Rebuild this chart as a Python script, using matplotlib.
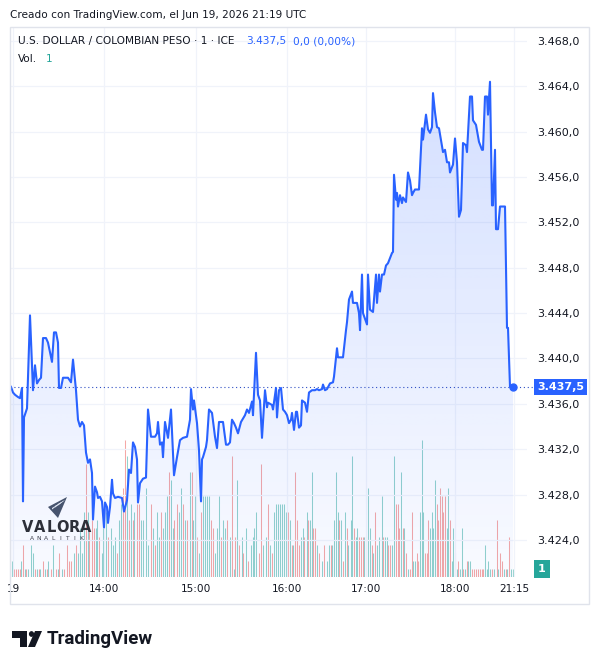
import matplotlib.pyplot as plt
import numpy as np
from matplotlib.patches import Rectangle, Polygon, Circle
from matplotlib.ticker import FuncFormatter

# USD/COP 1-minute area chart, Jun 19 2026 (TradingView export)
bar = [11, 13, 15, 18, 20, 22, 23, 24, 27, 30,
       33, 35, 37, 39, 41, 43, 46, 48, 52, 54,
       56, 58, 59, 61, 63, 68, 71, 73, 76, 78,
       80, 82, 84, 86, 88, 90, 92, 93, 95, 97,
       98, 100, 102, 104, 105, 107, 108, 110, 112, 113,
       115, 118, 122, 124, 127, 129, 131, 133, 135, 137,
       138, 140, 143, 146, 148, 151, 155, 157, 158, 160,
       162, 163, 165, 168, 171, 174, 177, 180, 183, 187,
       190, 191, 193, 194, 197, 199, 201, 202, 203, 206,
       207, 209, 212, 215, 217, 219, 223, 226, 228, 230,
       232, 234, 236, 238, 241, 245, 247, 249, 252, 253,
       256, 258, 260, 262, 265, 267, 268, 272, 273, 276,
       277, 279, 281, 283, 285, 287, 289, 291, 292, 294,
       296, 297, 299, 301, 302, 305, 307, 309, 312, 315,
       317, 319, 322, 323, 325, 327, 330, 333, 334, 337,
       338, 343, 346, 347, 349, 352, 353, 357, 359, 360,
       362, 363, 367, 368, 370, 373, 376, 377, 379, 380,
       382, 384, 386, 388, 392, 393, 394, 396, 397, 398,
       400, 402, 403, 406, 408, 410, 412, 413, 415, 419,
       422, 423, 426, 428, 430, 432, 433, 435, 437, 439,
       442, 443, 445, 447, 449, 450, 453, 455, 457, 459,
       461, 463, 466, 467, 470, 472, 473, 476, 479, 482,
       483, 485, 487, 488, 490, 492, 493, 495, 496, 498,
       500, 505, 507, 508, 510, 513]

price = [3437.5, 3437.0, 3436.8, 3436.6, 3436.5, 3437.4, 3427.4, 3434.8, 3435.6, 3443.8,
         3437.2, 3439.4, 3437.8, 3438.1, 3438.3, 3441.8, 3441.8, 3441.4, 3439.7, 3442.3,
         3442.3, 3441.4, 3437.4, 3437.4, 3438.3, 3438.3, 3437.9, 3439.9, 3437.2, 3434.6,
         3434.0, 3434.4, 3434.1, 3431.7, 3430.8, 3431.1, 3429.9, 3425.8, 3428.7, 3428.2,
         3427.7, 3427.8, 3427.4, 3425.1, 3427.3, 3426.9, 3425.5, 3426.9, 3429.3, 3428.1,
         3427.7, 3427.8, 3427.7, 3426.5, 3427.5, 3430.2, 3429.9, 3432.6, 3432.2, 3431.1,
         3427.3, 3429.0, 3429.4, 3429.5, 3435.5, 3433.1, 3433.1, 3433.4, 3434.4, 3432.4,
         3432.6, 3431.3, 3434.4, 3433.0, 3435.5, 3429.7, 3431.3, 3432.8, 3433.0, 3433.1,
         3434.6, 3437.3, 3435.5, 3436.3, 3434.3, 3431.9, 3427.4, 3431.1, 3431.3, 3432.2,
         3432.8, 3435.5, 3435.2, 3433.1, 3432.1, 3434.4, 3434.4, 3432.4, 3432.4, 3432.6,
         3434.6, 3434.3, 3433.9, 3433.4, 3434.4, 3435.0, 3435.5, 3435.2, 3436.2, 3435.0,
         3440.5, 3436.8, 3436.3, 3433.0, 3437.2, 3435.7, 3436.1, 3435.9, 3435.5, 3437.4,
         3434.8, 3437.2, 3437.4, 3435.5, 3435.3, 3435.0, 3434.3, 3434.6, 3435.2, 3433.7,
         3435.3, 3435.3, 3433.9, 3434.1, 3436.3, 3436.1, 3435.3, 3437.0, 3437.2, 3437.2,
         3437.3, 3437.2, 3437.3, 3437.7, 3437.2, 3437.3, 3437.8, 3437.9, 3438.4, 3440.9,
         3440.1, 3440.1, 3442.5, 3443.2, 3445.2, 3445.9, 3444.9, 3444.9, 3444.0, 3442.5,
         3447.4, 3444.0, 3443.0, 3447.4, 3444.3, 3444.1, 3447.4, 3444.9, 3447.4, 3445.9,
         3447.4, 3447.4, 3448.2, 3448.4, 3449.3, 3449.4, 3456.2, 3454.0, 3454.6, 3453.4,
         3454.4, 3453.7, 3454.2, 3453.8, 3456.4, 3455.7, 3454.4, 3454.6, 3454.9, 3454.9,
         3460.3, 3459.3, 3461.5, 3460.2, 3459.9, 3460.4, 3463.4, 3461.7, 3460.4, 3460.3,
         3458.7, 3458.2, 3458.4, 3457.3, 3457.3, 3456.4, 3457.1, 3459.4, 3457.3, 3452.5,
         3453.1, 3459.0, 3458.8, 3458.2, 3463.1, 3463.1, 3461.0, 3460.6, 3459.1, 3458.4,
         3458.4, 3463.1, 3463.1, 3461.5, 3464.4, 3453.5, 3453.5, 3458.4, 3451.4, 3451.4,
         3453.4, 3453.4, 3442.7, 3442.7, 3437.5, 3437.5]

vol_bar = [12, 14, 16, 18, 20, 21, 23, 25, 26, 28,
           31, 33, 35, 37, 39, 40, 43, 45, 47, 48,
           51, 53, 56, 58, 59, 62, 64, 67, 69, 71,
           74, 76, 78, 80, 82, 84, 86, 88, 89, 92,
           94, 96, 97, 99, 102, 103, 106, 108, 111, 113,
           115, 117, 119, 121, 123, 125, 127, 129, 131, 133,
           134, 137, 139, 141, 143, 146, 148, 151, 153, 155,
           157, 159, 161, 163, 165, 167, 169, 171, 173, 174,
           177, 179, 181, 183, 185, 187, 190, 192, 193, 195,
           197, 199, 201, 203, 205, 207, 209, 211, 213, 215,
           217, 219, 221, 223, 225, 227, 230, 232, 234, 235,
           237, 239, 242, 243, 246, 248, 251, 253, 254, 256,
           259, 261, 263, 266, 268, 270, 272, 274, 276, 278,
           280, 282, 284, 286, 288, 290, 292, 293, 295, 297,
           299, 301, 303, 304, 307, 308, 310, 312, 313, 315,
           317, 319, 322, 324, 327, 329, 331, 332, 334, 336,
           338, 339, 341, 343, 345, 347, 348, 351, 352, 354,
           356, 357, 359, 361, 363, 364, 366, 368, 370, 372,
           373, 375, 377, 379, 382, 383, 385, 387, 388, 390,
           392, 394, 396, 398, 399, 401, 403, 404, 406, 408,
           410, 412, 413, 415, 417, 418, 420, 422, 423, 425,
           427, 428, 430, 432, 433, 435, 437, 438, 440, 442,
           443, 445, 447, 448, 450, 452, 453, 455, 457, 458,
           460, 462, 463, 465, 467, 468, 470, 472, 474, 476,
           478, 480, 482, 483, 485, 487, 488, 490, 492, 494,
           497, 498, 500, 502, 504, 506, 507, 509, 511, 513]

vol = [2, 1, 1, 1, 1, 2, 4, 1, 1, 1,
       4, 3, 1, 1, 1, 1, 2, 1, 1, 2,
       1, 4, 1, 1, 3, 1, 1, 4, 2, 2,
       3, 4, 3, 6, 3, 8, 14, 8, 6, 7,
       6, 6, 7, 5, 3, 6, 8, 5, 6, 4,
       5, 3, 7, 9, 11, 17, 15, 7, 9, 7,
       8, 9, 9, 7, 7, 11, 4, 9, 6, 4,
       8, 5, 8, 6, 8, 10, 13, 12, 6, 7,
       9, 8, 11, 9, 7, 7, 13, 13, 7, 10,
       5, 3, 8, 10, 10, 10, 10, 7, 6, 3,
       6, 10, 5, 7, 6, 7, 5, 15, 1, 5,
       12, 4, 5, 3, 6, 2, 4, 5, 6, 8,
       3, 14, 4, 5, 9, 4, 3, 8, 9, 9,
       9, 9, 9, 8, 8, 7, 4, 4, 13, 7,
       4, 5, 6, 5, 8, 7, 7, 13, 6, 6,
       4, 3, 2, 4, 2, 4, 4, 4, 7, 13,
       8, 7, 7, 2, 8, 6, 4, 7, 15, 6,
       5, 6, 5, 5, 5, 5, 5, 11, 6, 4,
       3, 8, 4, 5, 10, 5, 5, 5, 4, 4,
       4, 15, 9, 9, 6, 13, 6, 6, 3, 1,
       1, 8, 2, 2, 3, 2, 8, 17, 8, 3,
       3, 7, 6, 8, 6, 12, 9, 7, 11, 10,
       8, 10, 6, 11, 7, 2, 6, 3, 1, 2,
       1, 6, 1, 1, 2, 2, 2, 1, 1, 1,
       1, 1, 1, 1, 4, 1, 2, 1, 1, 1,
       7, 1, 3, 2, 1, 1, 1, 5, 1, 1]

# g = up bar (teal), r = down bar (red)
vol_dir = ("grrrrgrgrg" "ggrgrgrgrg" "rgrgrgrrrr" "grggggrgrr" "rggrgggrgg"
           "grggrrgrgr" "grrggggrgr" "ggrgggrggr" "rggrgrgrgg" "rgrggggrrg"
           "ggrggrgrgr" "grgrgrgggg" "rrggrgrggg" "ggggrgrgrr" "rggrgrggrr"
           "grgrggrggg" "grgrgrgggr" "ggrrrgrggr" "grgggrggrr" "ggrrrgrgrg"
           "rrggrrgggr" "rrggggrrrr" "rrggrggrgr" "ggrgrggrrr" "rrrrggggrg"
           "rgrrgrgrgg")

price_ticks = np.arange(3424, 3469, 4)
time_ticks = [13, 104, 196, 287, 366, 455, 514]
time_labels = ['19', '14:00', '15:00', '16:00', '17:00', '18:00', '21:15']

assert len(bar) == len(price) and len(vol_bar) == len(vol) == len(vol_dir)

W, H = 598, 664
plt.rcParams['font.family'] = 'DejaVu Sans'
fig = plt.figure(figsize=(W / 100, H / 100), dpi=100)


def fx(px):
    return px / W


def fy(py):
    return 1 - py / H


rect = [fx(10), fy(577), fx(527) - fx(10), fy(27) - fy(577)]
xlo, xhi = 10, 527
ylo, yhi = 3420.73, 3469.23

# volume pane underneath
axv = fig.add_axes(rect)
colors = ['#93d2cc' if d == 'g' else '#f5a8a6' for d in vol_dir]
axv.vlines(vol_bar, 0, vol, colors=colors, lw=0.75)
axv.set_xlim(xlo, xhi)
axv.set_ylim(0, 68)
axv.axis('off')

ax = fig.add_axes(rect)
ax.patch.set_alpha(0)
ax.set_xlim(xlo, xhi)
ax.set_ylim(ylo, yhi)

# gradient area under the price line
verts = np.column_stack([np.r_[bar[0], bar, bar[-1]], np.r_[ylo, price, ylo]])
poly = Polygon(verts, closed=True, fc='none', ec='none')
ax.add_patch(poly)
alpha = np.linspace(0.22, 0.03, 256)
img = np.zeros((256, 1, 4))
img[..., 0] = 41 / 255
img[..., 1] = 98 / 255
img[..., 2] = 1.0
img[:, 0, 3] = alpha
im = ax.imshow(img, extent=[xlo, xhi, ylo, yhi], aspect='auto', origin='upper', zorder=1)
im.set_clip_path(poly)

ax.plot(bar, price, color='#2962ff', lw=1.5, zorder=3, solid_joinstyle='round')
ax.plot(bar[-1], price[-1], 'o', ms=5, color='#2962ff', zorder=4)
ax.plot([xlo, 535], [price[-1], price[-1]], ls=(0, (1, 2.5)), color='#2f4fc4', lw=0.8,
        zorder=2, clip_on=False)

ax.set_xlim(xlo, xhi)
ax.set_ylim(ylo, yhi)
ax.yaxis.tick_right()
ax.set_yticks(price_ticks)
ax.yaxis.set_major_formatter(FuncFormatter(
    lambda v, p: f"{v:,.1f}".replace(',', 'X').replace('.', ',').replace('X', '.')))
ax.set_xticks(time_ticks)
ax.set_xticklabels(time_labels)
ax.tick_params(axis='y', length=0, pad=7.5, labelsize=8, labelcolor='#131722')
ax.tick_params(axis='x', length=0, pad=5, labelsize=7.6, labelcolor='#131722')
ax.grid(color='#f0f3fa', lw=0.9, zorder=0)
ax.set_axisbelow(True)
for s in ax.spines.values():
    s.set_visible(False)

# last price tag
ax.text(537, price[-1], "3.437,5", color='white', fontsize=8, fontweight='bold',
        va='center', ha='left', zorder=6,
        bbox=dict(boxstyle='square,pad=0.28', fc='#2962ff', ec='none'))
fig.text(fx(542), fy(569), "1", color='white', fontsize=8, fontweight='bold',
         ha='center', va='center',
         bbox=dict(boxstyle='square,pad=0.4', fc='#26a69a', ec='none'))

# panel border
fig.add_artist(Rectangle((fx(10), fy(604)), fx(589) - fx(10), fy(27) - fy(604),
                         transform=fig.transFigure, fill=False, ec='#e0e3eb', lw=1))

# header and legend
fig.text(fx(10), fy(15), "Creado con TradingView.com, el Jun 19, 2026 21:19 UTC",
         fontsize=7.6, color='#131722', va='center')
fig.text(fx(18), fy(41), "U.S. DOLLAR / COLOMBIAN PESO · 1 · ICE", fontsize=7.6,
         color='#131722', va='center')
fig.text(fx(246), fy(41), "3.437,5", fontsize=7.6, color='#2962ff', va='center')
fig.text(fx(293), fy(41), "0,0 (0,00%)", fontsize=7.6, color='#2962ff', va='center')
fig.text(fx(18), fy(59), "Vol.", fontsize=7.6, color='#131722', va='center')
fig.text(fx(46), fy(59), "1", fontsize=7.6, color='#26a69a', va='center')

# watermark
icon = Polygon([(fx(48), fy(507)), (fx(67), fy(497)), (fx(58), fy(518))],
               closed=True, transform=fig.transFigure, fc='#34425e', ec='none', alpha=0.9)
fig.add_artist(icon)
for k in range(3):
    fig.add_artist(Polygon([(fx(52 + 3 * k), fy(508 - 2 * k)), (fx(65), fy(500)),
                            (fx(52 + 3 * k), fy(509.5 - 2 * k))], closed=True,
                           transform=fig.transFigure, fc='#dfe6f3', ec='none'))
for ch, cx in zip("VALORA", [28, 40, 51.5, 62.5, 74.5, 86]):
    fig.text(fx(cx), fy(527), ch, fontsize=10.5, fontweight='bold', color='#2d3039',
             ha='center', va='center')
for ch, cx in zip("ANALITIK", [32, 39, 46, 53, 60, 67, 74, 81]):
    fig.text(fx(cx), fy(538), ch, fontsize=4.3, color='#3a3d4a', ha='center', va='center')

# TradingView footer logo
fig.add_artist(Polygon([(fx(12), fy(631)), (fx(27), fy(631)), (fx(27), fy(647)),
                        (fx(20), fy(647)), (fx(20), fy(638)), (fx(12), fy(638))],
                       closed=True, transform=fig.transFigure, fc='#131722', ec='none'))
fig.add_artist(Circle((fx(31.5), fy(634)), 2.6 / W, transform=fig.transFigure,
                      fc='#131722', ec='none'))
fig.add_artist(Polygon([(fx(35), fy(631)), (fx(42), fy(631)), (fx(35), fy(647)),
                        (fx(28), fy(647))],
                       closed=True, transform=fig.transFigure, fc='#131722', ec='none'))
fig.text(fx(47), fy(639), "TradingView", fontsize=13.5, fontweight='bold',
         family='Roboto', color='#131722', va='center', ha='left')

fig.savefig('out.png', dpi=100)
